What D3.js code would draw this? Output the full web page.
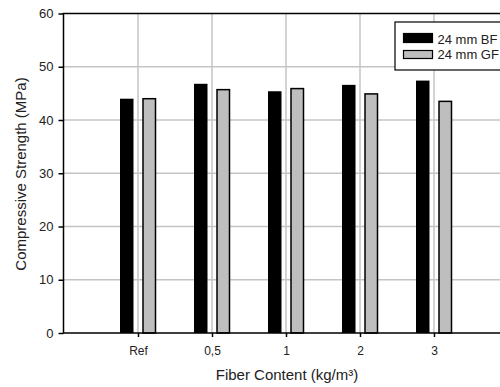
<!DOCTYPE html>
<html>
<head>
<meta charset="utf-8">
<script src="https://cdn.jsdelivr.net/npm/d3@7"></script>
<style>
  body { margin: 0; background: #fff; }
  svg { display: block; font-family: Arial, "Liberation Sans", sans-serif; }
</style>
</head>
<body>
<script>
const categories = ["Ref", "0,5", "1", "2", "3"];
const bfValues = [44.0, 46.8, 45.4, 46.6, 47.4];
const gfValues = [44.0, 45.7, 45.9, 44.9, 43.5];
const yTicks = [0, 10, 20, 30, 40, 50, 60];

const width = 500, height = 387;
const plotLeft = 63.5, plotTop = 13.5, plotBottom = 333, plotRight = 520;

const svg = d3.select("body").append("svg")
  .attr("width", width)
  .attr("height", height);

const x = d3.scalePoint()
  .domain(categories)
  .range([64, 508])
  .padding(1);

const y = d3.scaleLinear()
  .domain([0, 60])
  .range([plotBottom, plotTop]);

// grid
svg.append("g").selectAll("line")
  .data(yTicks.slice(1, -1))
  .join("line")
  .attr("x1", plotLeft).attr("x2", plotRight)
  .attr("y1", d => y(d)).attr("y2", d => y(d))
  .attr("stroke", "#c4c4c4").attr("stroke-width", 1.5);

svg.append("g").selectAll("line")
  .data(categories)
  .join("line")
  .attr("x1", d => x(d)).attr("x2", d => x(d))
  .attr("y1", plotTop).attr("y2", plotBottom)
  .attr("stroke", "#c4c4c4").attr("stroke-width", 1.5);

// bars
svg.append("g").selectAll("rect")
  .data(bfValues)
  .join("rect")
  .attr("x", (d, i) => x(categories[i]) - 18)
  .attr("y", d => y(d))
  .attr("width", 13.5)
  .attr("height", d => plotBottom - y(d))
  .attr("fill", "#000");

svg.append("g").selectAll("rect")
  .data(gfValues)
  .join("rect")
  .attr("x", (d, i) => x(categories[i]) + 5)
  .attr("y", d => y(d))
  .attr("width", 12.5)
  .attr("height", d => plotBottom - y(d))
  .attr("fill", "#bebebe")
  .attr("stroke", "#000")
  .attr("stroke-width", 1.5);

// frame
svg.append("path")
  .attr("d", `M${plotRight},${plotTop}H${plotLeft}V${plotBottom}H${plotRight}`)
  .attr("fill", "none")
  .attr("stroke", "#000")
  .attr("stroke-width", 1.5);

// axes
const yAxis = svg.append("g")
  .attr("transform", `translate(${plotLeft},0)`)
  .call(d3.axisLeft(y).tickValues(yTicks).tickSize(5).tickPadding(5));
yAxis.select(".domain").remove();
yAxis.selectAll("line").attr("stroke-width", 1.5);
yAxis.selectAll("text").attr("font-size", 13).attr("fill", "#222")
  .attr("font-family", "Arial, 'Liberation Sans', sans-serif");

const xAxis = svg.append("g")
  .attr("transform", `translate(0,${plotBottom})`)
  .call(d3.axisBottom(x).tickSize(4).tickPadding(9));
xAxis.select(".domain").remove();
xAxis.selectAll("line").attr("stroke-width", 1.5);
xAxis.selectAll("text").attr("font-size", 12).attr("fill", "#222")
  .attr("font-family", "Arial, 'Liberation Sans', sans-serif");

// titles
svg.append("text")
  .attr("transform", "translate(26,174) rotate(-90)")
  .attr("text-anchor", "middle")
  .attr("font-size", 15)
  .attr("fill", "#222")
  .text("Compressive Strength (MPa)");

svg.append("text")
  .attr("x", 287)
  .attr("y", 380)
  .attr("text-anchor", "middle")
  .attr("font-size", 15)
  .attr("fill", "#222")
  .text("Fiber Content (kg/m³)");

// legend
const legend = svg.append("g");
legend.append("rect")
  .attr("x", 395).attr("y", 22)
  .attr("width", 120).attr("height", 48)
  .attr("fill", "#fff").attr("stroke", "#000").attr("stroke-width", 1.2);

const legendItems = [
  { label: "24 mm BF", fill: "#000" },
  { label: "24 mm GF", fill: "#bebebe" }
];
legendItems.forEach((d, i) => {
  legend.append("rect")
    .attr("x", 403.5).attr("y", i === 0 ? 33.5 : 50.5)
    .attr("width", 29).attr("height", i === 0 ? 9 : 8)
    .attr("fill", d.fill).attr("stroke", "#000").attr("stroke-width", 1.2);
  legend.append("text")
    .attr("x", 437.5).attr("y", 44 + i * 14.5)
    .attr("font-size", 13)
    .attr("fill", "#222")
    .text(d.label);
});
</script>
</body>
</html>
